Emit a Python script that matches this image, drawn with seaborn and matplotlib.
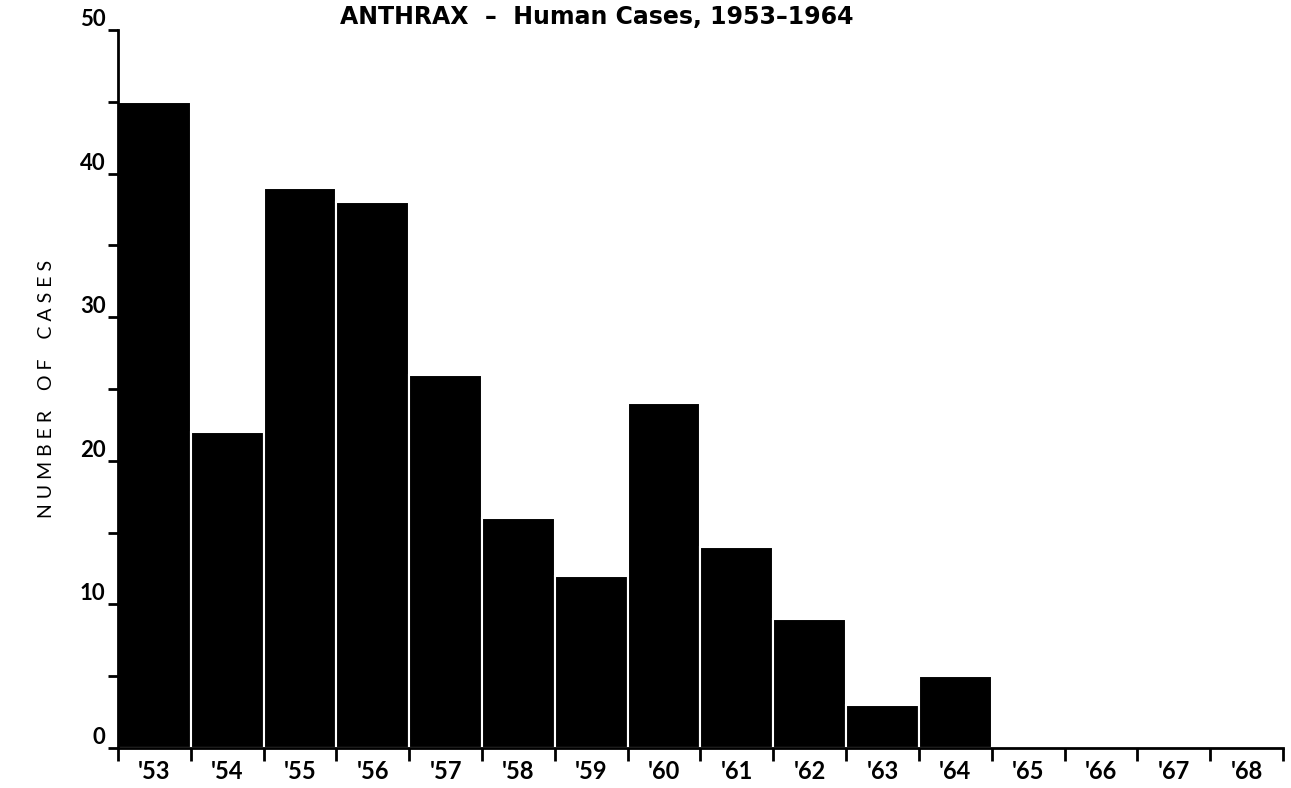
import matplotlib
matplotlib.use("Agg")
import matplotlib.pyplot as plt
import seaborn as sns
import pandas as pd

# dados
anos = ["'53", "'54", "'55", "'56", "'57", "'58", "'59", "'60",
        "'61", "'62", "'63", "'64", "'65", "'66", "'67", "'68"]
casos = [45, 22, 39, 38, 26, 16, 12, 24, 14, 9, 3, 5, 0, 0, 0, 0]

df = pd.DataFrame({"ano": anos, "casos": casos})

sns.set_theme(style="white")
plt.rcParams["font.family"] = ["Lato", "DejaVu Sans"]
plt.rcParams["text.color"] = "black"
plt.rcParams["axes.labelcolor"] = "black"
plt.rcParams["xtick.color"] = "black"
plt.rcParams["ytick.color"] = "black"

fig = plt.figure(figsize=(12.91, 7.88), dpi=100)
ax = fig.add_axes([0.0914, 0.0508, 0.9024, 0.9112])

sns.barplot(data=df, x="ano", y="casos", color="black", width=1.0,
            edgecolor="white", linewidth=1.5, saturation=1, ax=ax)

ax.set_xlim(-0.5, len(anos) - 0.5)
ax.set_ylim(0, 50)

# eixo y: marcas principais a cada 10, secundárias a cada 5
ax.set_yticks(range(0, 51, 10))
ax.set_yticks(range(5, 50, 10), minor=True)
ax.set_yticklabels([str(v) for v in range(0, 51, 10)], fontsize=16, fontweight="bold")
for lbl in ax.get_yticklabels():
    lbl.set_va("bottom")
ax.tick_params(axis="y", which="both", direction="out", length=7, width=2, left=True, pad=2)

# eixo x: rótulos no centro das barras, marcas nas divisões
ax.set_xticks(range(len(anos)))
ax.set_xticklabels(anos, fontsize=17, fontweight="bold")
ax.tick_params(axis="x", which="major", length=0, pad=9)
ax.set_xticks([i - 0.5 for i in range(len(anos) + 1)], minor=True)
ax.tick_params(axis="x", which="minor", direction="out", length=9, width=2, bottom=True)

for lado in ["top", "right"]:
    ax.spines[lado].set_visible(False)
for lado in ["left", "bottom"]:
    ax.spines[lado].set_linewidth(2)
    ax.spines[lado].set_color("black")

ax.set_xlabel("")
ax.set_ylabel("N U M B E R    O F    C A S E S", fontsize=14, labelpad=18)

fig.text(0.462, 0.978, "ANTHRAX  –  Human Cases, 1953–1964",
         ha="center", va="center", fontsize=17, fontweight="bold",
         family="DejaVu Sans", color="black")

fig.savefig("out.png", dpi=100)
